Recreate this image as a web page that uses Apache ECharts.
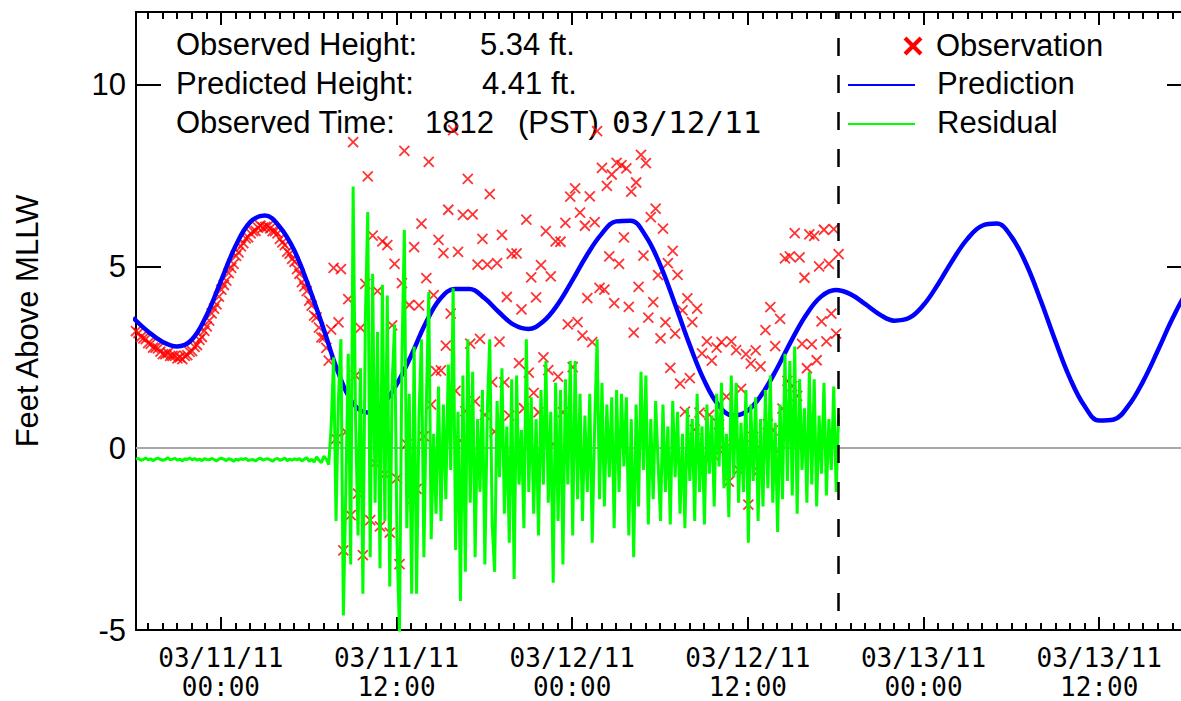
<!DOCTYPE html>
<html>
<head>
<meta charset="utf-8">
<title>Tide gauge</title>
<script src="https://cdn.jsdelivr.net/npm/echarts@6/dist/echarts.min.js"></script>
<style>
  html, body { margin: 0; padding: 0; background: #fff; }
  #chart { width: 1181px; height: 701px; }
</style>
</head>
<body>
<div id="chart"></div>
<script>
// hours are counted from 03/11/11 00:00 PST
const tickHours = [0, 12, 24, 36, 48, 60];
const tickLabels = ['03/11/11\n00:00', '03/11/11\n12:00', '03/12/11\n00:00',
                    '03/12/11\n12:00', '03/13/11\n00:00', '03/13/11\n12:00'];
const yTicks = [-5, 0, 5, 10];

// hourly tide prediction, first value at -6 h
const predStart = -6;
const predicted = [
  3.59, 3.22, 2.93, 2.80, 2.98, 3.64, 4.60, 5.56, 6.22, 6.40, 6.10, 5.45, 4.45, 3.30, 2.10, 1.25,
  0.98, 1.18, 1.75, 2.55, 3.45, 4.12, 4.38, 4.38, 4.13, 3.74, 3.40, 3.28, 3.48, 3.95, 4.61, 5.31,
  5.89, 6.24, 6.26, 5.85, 5.05, 3.99, 2.87, 1.88, 1.18, 0.90, 1.04, 1.51, 2.20, 2.98, 3.68, 4.17,
  4.35, 4.24, 3.97, 3.68, 3.51, 3.58, 3.94, 4.52, 5.18, 5.76, 6.12, 6.18, 5.82, 5.08, 4.07, 2.96,
  1.93, 1.16, 0.76, 0.79, 1.17, 1.84, 2.68, 3.56, 4.31, 4.82
];

// observations every 10 minutes from 03/10/11 18:12 (-5.8 h) to 03/12/11 18:12
const obsStart = -5.8;
const obsStep = 1 / 6;
const observed = [
  3.22, 3.17, 3.06, 3.02, 3.00, 2.89,  2.87, 2.77, 2.77, 2.75, 2.66, 2.59,
  2.59, 2.62, 2.54, 2.54, 2.54, 2.47,  2.50, 2.45, 2.54, 2.56, 2.65, 2.67,
  2.79, 2.84, 2.98, 3.06, 3.23, 3.35,  3.51, 3.71, 3.84, 3.96, 4.17, 4.36,
  4.49, 4.61, 4.82, 4.96, 5.07, 5.29,  5.39, 5.55, 5.64, 5.77, 5.80, 5.91,
  5.97, 5.98, 6.07, 6.12, 6.07, 6.09,  6.10, 6.05, 5.97, 5.97, 5.91, 5.76,
  5.66, 5.59, 5.41, 5.35, 5.21, 5.13,  4.93, 4.80, 4.57, 4.45, 4.32, 4.06,
  3.92, 3.65, 3.60, 3.32, 3.05, 3.04,  2.76, 2.41, 3.26, 4.96, 0.26, 3.46,
  4.93, -2.81, 0.45, 4.10, -1.84, 8.42,  2.00, -1.25, 3.31, -2.94, 4.52, 7.48,
  -1.98, 5.85, -0.41, 4.32, -2.15, 5.69,  -0.71, 5.59, -2.32, 3.38, 5.07, -0.83,
  -3.19, 4.54, 8.18, 0.11, 3.94, -1.42,  5.53, -1.12, 3.93, 6.18, 0.33, 4.68,
  7.88, 1.20, 4.21, 2.12, 5.73, 2.14,  5.37, 2.82, 6.56, 3.70, 8.75, 1.58,
  5.40, 0.21, 6.42, 1.02, 7.41, 2.88,  6.43, 1.29, 5.05, 3.01, 5.76, 0.92,
  5.05, 6.99, 1.82, 0.46, 5.09, 2.93,  5.87, 1.81, 4.16, 0.90, 5.35, -0.21,
  5.36, 2.34, 3.82, 1.10, 6.29, 2.08,  4.70, 1.52, 4.15, 0.99, 5.04, 2.50,
  5.97, 2.15, 4.73, 0.11, 5.69, 1.97,  5.68, 0.99, 6.20, 3.41, 6.92, 2.23,
  7.15, 3.47, 6.48, 3.10, 6.12, 4.13,  6.93, 2.92, 6.22, 8.72, 4.41, 7.71,
  4.36, 7.22, 5.28, 7.53, 3.99, 7.85,  5.07, 7.79, 5.80, 7.70, 3.89, 7.06,
  3.18, 7.31, 4.44, 8.07, 5.30, 7.84,  3.59, 6.36, 4.02, 6.59, 4.76, 3.02,
  6.04, 3.46, 5.09, 2.21, 5.43, 3.15,  4.77, 1.78, 3.79, 1.01, 4.12, 1.93,
  3.47, 0.51, 3.84, 0.98, 2.61, -0.25,  2.94, 0.92, 2.41, -0.21, 2.77, 0.66,
  2.92, -0.03, 1.42, -0.92, 2.94, 0.10,  2.70, -0.59, 1.63, -0.24, 2.59, -1.55,
  2.33, 0.31, 2.69, -0.63, 2.25, -0.07,  3.25, 0.66, 3.88, 0.49, 2.81, -0.08,
  3.56, 1.09, 5.22, 1.85, 5.28, 1.71,  5.92, 1.44, 5.25, 2.87, 4.69, 2.20,
  5.88, 2.86, 5.84, 2.42, 5.00, 3.49,  6.01, 2.94, 5.07, 3.70, 6.03, 3.15,
  5.34
];
const residual = [
  -0.30, -0.28, -0.33, -0.31, -0.27, -0.32,  -0.29, -0.34, -0.30, -0.27, -0.31, -0.33,
  -0.31, -0.26, -0.32, -0.30, -0.28, -0.33,  -0.30, -0.35, -0.29, -0.31, -0.27, -0.32,
  -0.28, -0.33, -0.30, -0.34, -0.29, -0.31,  -0.32, -0.28, -0.31, -0.35, -0.30, -0.27,
  -0.30, -0.34, -0.29, -0.31, -0.36, -0.30,  -0.33, -0.29, -0.31, -0.28, -0.34, -0.32,
  -0.31, -0.35, -0.30, -0.27, -0.33, -0.30,  -0.29, -0.32, -0.36, -0.30, -0.28, -0.33,
  -0.31, -0.27, -0.34, -0.30, -0.33, -0.29,  -0.32, -0.28, -0.35, -0.30, -0.26, -0.36,
  -0.30, -0.38, -0.24, -0.33, -0.40, -0.22,  -0.30, -0.45, 0.60, 2.50, -2.00, 1.40,
  3.00, -4.60, -1.20, 2.60, -3.20, 7.20,  0.80, -2.40, 2.20, -4.00, 3.50, 6.50,
  -3.00, 4.80, -1.50, 3.20, -3.30, 4.50,  -2.00, 4.20, -3.80, 1.80, 3.40, -2.60,
  -5.10, 2.50, 6.00, -2.20, 1.50, -4.00,  2.80, -4.00, 0.90, 3.00, -3.00, 1.20,
  4.30, -2.50, 0.40, -1.80, 1.70, -2.00,  1.20, -1.40, 2.30, -0.60, 4.40, -2.80,
  1.00, -4.20, 2.00, -3.40, 3.00, -1.50,  2.10, -3.00, 0.80, -1.20, 1.60, -3.20,
  1.00, 3.00, -2.10, -3.40, 1.30, -0.80,  2.20, -1.80, 0.60, -2.60, 1.90, -3.60,
  2.00, -1.00, 0.50, -2.20, 3.00, -1.20,  1.40, -1.80, 0.80, -2.40, 1.60, -1.00,
  2.40, -1.50, 1.00, -3.70, 1.80, -2.00,  1.60, -3.20, 1.90, -1.00, 2.40, -2.40,
  2.40, -1.40, 1.50, -2.00, 0.90, -1.20,  1.50, -2.60, 0.60, 3.00, -1.40, 1.80,
  -1.60, 1.20, -0.80, 1.40, -2.20, 1.60,  -1.20, 1.50, -0.50, 1.40, -2.40, 0.80,
  -3.00, 1.20, -1.60, 2.10, -0.60, 2.00,  -2.10, 0.80, -1.40, 1.30, -0.40, -2.00,
  1.20, -1.20, 0.60, -2.10, 1.30, -0.80,  1.00, -1.80, 0.40, -2.20, 1.10, -0.90,
  0.80, -2.00, 1.50, -1.20, 0.60, -2.10,  1.20, -0.70, 0.90, -1.60, 1.50, -0.50,
  1.80, -1.10, 0.40, -1.90, 2.00, -0.80,  1.80, -1.50, 0.70, -1.20, 1.60, -2.60,
  1.20, -0.90, 1.40, -2.00, 0.80, -1.60,  1.60, -1.10, 2.00, -1.50, 0.70, -2.30,
  1.20, -1.40, 2.60, -0.90, 2.40, -1.30,  2.80, -1.80, 1.90, -0.60, 1.10, -1.50,
  2.10, -1.00, 1.90, -1.60, 0.90, -0.70,  1.80, -1.30, 0.80, -0.60, 1.70, -1.20,
  0.93
];
const obsTime = 42.2; // 1812 PST 03/12/11
// the plot runs past the right edge of the picture
const xMin = -5.8, xMax = 65.59;

const font = '31px "Liberation Sans"';
const monoFont = '31px "DejaVu Sans Mono"';
const hourTicks = [];
for (let h = -5; h <= 65; h++) hourTicks.push(h);

function xAxisOf(position, ticks, len, showLine, showLabel) {
  return {
    type: 'value', position: position, min: xMin, max: xMax,
    splitLine: { show: false },
    axisLine: { show: showLine, onZero: false, lineStyle: { color: '#000', width: 2 } },
    axisTick: { customValues: ticks, inside: true, length: len, lineStyle: { color: '#000', width: 2 } },
    axisLabel: showLabel ? {
      customValues: tickHours,
      formatter: v => tickLabels[tickHours.indexOf(v)],
      color: '#000', fontSize: 26, lineHeight: 29, margin: 13,
      fontFamily: 'DejaVu Sans Mono'
    } : { show: false }
  };
}
function yAxisOf(position, showLabel) {
  return {
    type: 'value', position: position, min: -5, max: 12,
    splitLine: { show: false },
    axisLine: { show: showLabel, onZero: false, lineStyle: { color: '#000', width: 2 } },
    axisTick: { customValues: yTicks, inside: true, length: showLabel ? 25 : 14,
                lineStyle: { color: '#000', width: 2 } },
    axisLabel: showLabel ? {
      customValues: yTicks, color: '#000', fontSize: 31, margin: 10, fontFamily: 'Liberation Sans'
    } : { show: false },
    name: showLabel ? 'Feet Above MLLW' : '',
    nameLocation: 'middle', nameGap: 93,
    nameTextStyle: { color: '#000', fontSize: 31, fontFamily: 'Liberation Sans' }
  };
}
function label(x, y, text, f) {
  return { type: 'text', x: x, y: y, silent: true,
    style: { text: text, font: f || font, fill: '#000', verticalAlign: 'middle' } };
}

let chart = echarts.init(document.getElementById('chart'), null, { renderer: 'svg' });
let option = {
  animation: false,
  backgroundColor: '#fff',
  textStyle: { fontFamily: 'Liberation Sans' },
  grid: { left: 136, right: 0, top: 12, bottom: 71 },
  xAxis: [
    xAxisOf('bottom', tickHours, 13, true, true),
    xAxisOf('bottom', hourTicks, 7, false, false),
    xAxisOf('top', tickHours, 13, true, false),
    xAxisOf('top', hourTicks, 7, false, false)
  ],
  yAxis: [yAxisOf('left', true), yAxisOf('right', false)],
  series: [{
    name: 'Observation',
    type: 'scatter',
    data: observed.map((v, i) => [obsStart + i * obsStep, v]),
    symbol: 'path://M0,0L10,10M10,0L0,10',
    symbolSize: 10,
    itemStyle: { color: 'rgba(0,0,0,0)', borderColor: '#ff0000', borderWidth: 1.8 },
    silent: true,
    z: 2,
    markLine: {
      silent: true, symbol: 'none', z: 1,
      label: { show: false },
      lineStyle: { color: '#a8a8a8', width: 2, type: 'solid' },
      data: [{ yAxis: 0 }]
    }
  }, {
    name: 'Prediction',
    type: 'line',
    data: predicted.map((v, i) => [predStart + i, v]),
    smooth: 0.4,
    showSymbol: false,
    silent: true,
    lineStyle: { color: '#0000ff', width: 4.5 },
    z: 3
  }, {
    name: 'Residual',
    type: 'line',
    data: residual.map((v, i) => [obsStart + i * obsStep, v]),
    showSymbol: false,
    silent: true,
    lineStyle: { color: '#00ff00', width: 3 },
    z: 4,
    markLine: {
      silent: true, symbol: 'none', z: 10,
      label: { show: false },
      lineStyle: { color: '#000', width: 2.5, type: [18, 19], dashOffset: 18 },
      data: [{ xAxis: obsTime }]
    }
  }],
  graphic: [
    label(176, 44, 'Observed Height:'),
    label(480, 44, '5.34 ft.'),
    label(176, 83, 'Predicted Height:'),
    label(482, 83, '4.41 ft.'),
    label(176, 122, 'Observed Time:'),
    label(425, 122, '1812'),
    label(518, 122, '(PST)'),
    label(612, 122, '03/12/11', monoFont),
    // legend
    { type: 'line', silent: true, shape: { x1: 905, y1: 38, x2: 921, y2: 54 }, style: { stroke: '#ff0000', lineWidth: 4 } },
    { type: 'line', silent: true, shape: { x1: 905, y1: 54, x2: 921, y2: 38 }, style: { stroke: '#ff0000', lineWidth: 4 } },
    label(936, 45, 'Observation'),
    { type: 'line', silent: true, shape: { x1: 848, y1: 85, x2: 915, y2: 85 }, style: { stroke: '#0000ff', lineWidth: 2 } },
    label(937, 83, 'Prediction'),
    { type: 'line', silent: true, shape: { x1: 848, y1: 124, x2: 915, y2: 124 }, style: { stroke: '#00ff00', lineWidth: 2 } },
    label(937, 122, 'Residual')
  ]
};
chart.setOption(option);
</script>
</body>
</html>
